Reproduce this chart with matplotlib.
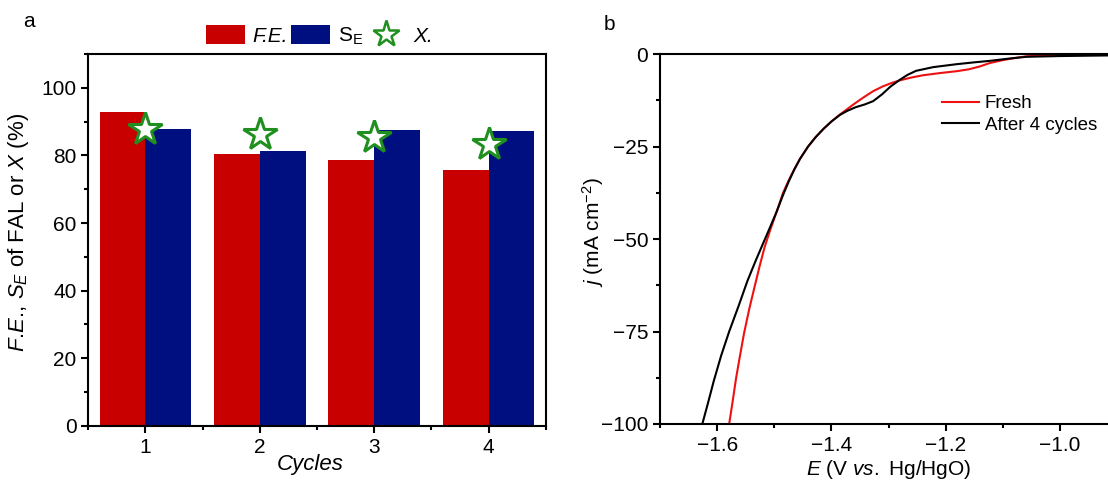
import matplotlib
matplotlib.use("Agg")
from matplotlib import pyplot as plt
from matplotlib.patches import Patch
from matplotlib.lines import Line2D
from matplotlib.ticker import MultipleLocator

plt.rcParams["font.family"] = ["Liberation Sans", "DejaVu Sans"]
plt.rcParams["mathtext.fontset"] = "custom"
plt.rcParams["mathtext.rm"] = "Liberation Sans"
plt.rcParams["mathtext.it"] = "Liberation Sans:italic"
plt.rcParams["axes.unicode_minus"] = True
plt.rcParams["font.size"] = 15

# Panel a: cycling performance
cycles = [1, 2, 3, 4]
fe = [92.9, 80.3, 78.7, 75.8]
se = [87.8, 81.3, 87.6, 87.1]
conversion = [87.9, 86.4, 85.4, 83.5]

# Panel b: LSV curves
e_fresh = [-1.579, -1.573, -1.567, -1.560, -1.553, -1.544, -1.535, -1.526, -1.517,
           -1.506, -1.494, -1.485, -1.475, -1.465, -1.455, -1.441, -1.428, -1.414,
           -1.400, -1.385, -1.372, -1.358, -1.343, -1.327, -1.310, -1.295, -1.281,
           -1.260, -1.240, -1.210, -1.181, -1.160, -1.140, -1.123, -1.100, -1.082,
           -1.060, -1.035, -0.98, -0.90]
j_fresh = [-100, -94, -87.7, -81.5, -75.5, -69, -63.2, -57.5, -52.2,
           -47.0, -41.8, -37.6, -34.2, -31.1, -28.3, -25.0, -22.5, -20.2,
           -18.2, -16.3, -14.8, -13.2, -11.6, -10.0, -8.7, -7.8, -7.1,
           -6.3, -5.7, -5.1, -4.6, -4.1, -3.3, -2.4, -1.6, -1.1,
           -0.6, -0.3, -0.2, -0.1]
e_after = [-1.626, -1.616, -1.606, -1.593, -1.579, -1.563, -1.547, -1.533, -1.520,
           -1.508, -1.4965, -1.485, -1.475, -1.465, -1.455, -1.441, -1.428, -1.414,
           -1.400, -1.385, -1.372, -1.357, -1.342, -1.327, -1.311, -1.297, -1.281,
           -1.267, -1.252, -1.222, -1.181, -1.150, -1.123, -1.090, -1.059, -1.0, -0.90]
j_after = [-100, -94.3, -88.4, -81.5, -75.0, -68.3, -61.3, -56, -51.3,
           -47.0, -42.8, -38.2, -34.5, -31.2, -28.3, -25.0, -22.5, -20.2,
           -18.2, -16.4, -15.3, -14.3, -13.6, -12.7, -10.8, -8.8, -7.0,
           -5.6, -4.5, -3.5, -2.7, -2.2, -1.8, -1.2, -0.7, -0.5, -0.3]

RED = "#c80000"
BLUE = "#000f80"
GREEN = "#1f8f1f"


def style_axes(ax):
    for s in ax.spines.values():
        s.set_linewidth(1.5)
    ax.tick_params(which="both", direction="out", width=1.5, top=False, right=False)
    ax.tick_params(which="major", length=5, labelsize=15)
    ax.tick_params(which="minor", length=3)


fig = plt.figure(figsize=(11.08, 4.84), dpi=100)

# ---- panel a
ax1 = fig.add_axes([0.0797, 0.1202, 0.4128, 0.7682])
w = 0.4
ax1.bar([c - w / 2 for c in cycles], fe, width=w, color=RED)
ax1.bar([c + w / 2 for c in cycles], se, width=w, color=BLUE)
ax1.plot(cycles, conversion, linestyle="none", marker="*", markersize=25,
         markerfacecolor="white", markeredgecolor=GREEN, markeredgewidth=2.2)
ax1.set_xlim(0.5, 4.5)
ax1.set_ylim(0, 110)
ax1.set_xticks(cycles)
ax1.set_yticks([0, 20, 40, 60, 80, 100])
ax1.xaxis.set_minor_locator(MultipleLocator(0.5))
ax1.yaxis.set_minor_locator(MultipleLocator(10))
ax1.set_xlabel("Cycles", fontsize=16, fontstyle="italic")
ax1.set_ylabel("$F$.$E$., $S_E$ of FAL or $X$ (%)", fontsize=16)
ax1.xaxis.set_label_coords(0.485, -0.075)
ax1.yaxis.set_label_coords(-0.125, 0.52)
style_axes(ax1)

handles = [
    Patch(facecolor=RED),
    Patch(facecolor=BLUE),
    Line2D([], [], linestyle="none", marker="*", markersize=20,
           markerfacecolor="white", markeredgecolor=GREEN, markeredgewidth=1.8),
]
leg = fig.legend(handles, ["F.E.", r"S$_\mathrm{E}$", "X."], ncol=3, loc="center",
                 bbox_to_anchor=(0.288, 0.925), frameon=False, fontsize=15,
                 handlelength=1.9, handleheight=1.0, handletextpad=0.35,
                 columnspacing=0.15)
leg.get_texts()[0].set_fontstyle("italic")
leg.get_texts()[2].set_fontstyle("italic")

fig.text(0.021, 0.955, "a", fontsize=15, va="center")

# ---- panel b
ax2 = fig.add_axes([0.5957, 0.124, 0.4125, 0.764])
ax2.plot(e_fresh, j_fresh, color="#ee1111", lw=1.5, label="Fresh")
ax2.plot(e_after, j_after, color="black", lw=1.5, label="After 4 cycles")
ax2.set_xlim(-1.7, -0.9)
ax2.set_ylim(-100, 0)
ax2.set_xticks([-1.6, -1.4, -1.2, -1.0])
ax2.set_yticks([-100, -75, -50, -25, 0])
ax2.xaxis.set_minor_locator(MultipleLocator(0.1))
ax2.yaxis.set_minor_locator(MultipleLocator(12.5))
ax2.set_xlabel("$E$ (V $vs.$ Hg/HgO)", fontsize=15, labelpad=2)
ax2.set_ylabel("$j$ (mA cm$^{-2}$)", fontsize=15)
ax2.yaxis.set_label_coords(-0.118, 0.52)
style_axes(ax2)
ax2.legend(loc="upper left", bbox_to_anchor=(0.6, 0.91), frameon=False,
           fontsize=13.5, handlelength=2.0, handletextpad=0.3, labelspacing=0.25,
           borderaxespad=0)

fig.text(0.545, 0.95, "b", fontsize=15, va="center")

fig.savefig("out.png", dpi=100)
